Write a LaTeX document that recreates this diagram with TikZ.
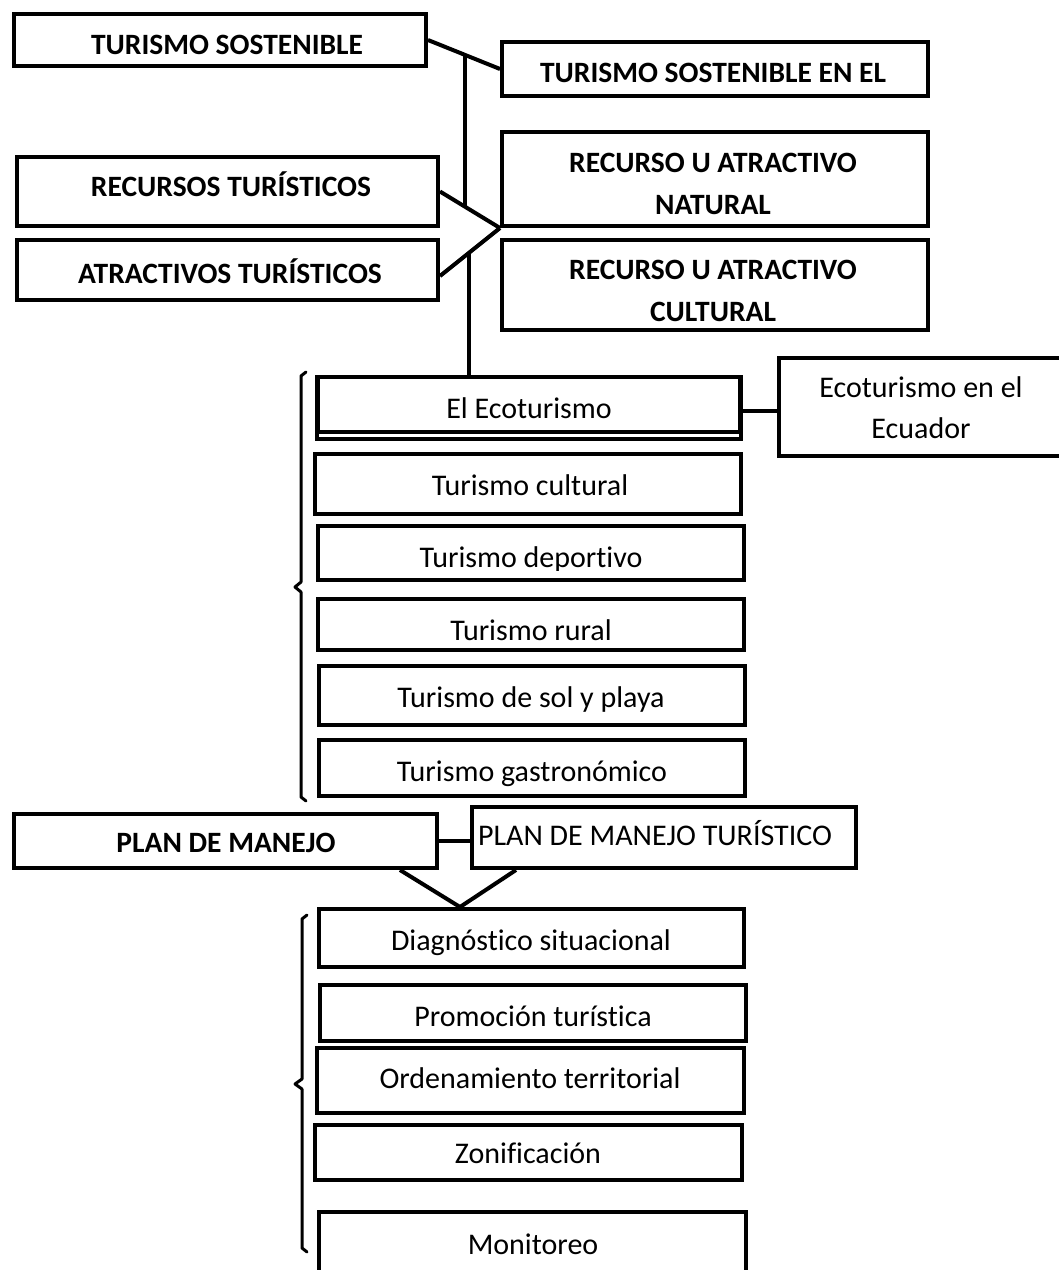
\documentclass[tikz,border=0pt]{standalone}
\usepackage{fontspec}
\setmainfont{Carlito}[Ligatures=NoCommon]
\usetikzlibrary{calc}
\newcommand\mybox[5]{\node[boxst, minimum width={(#4-#2-4)*1pt}, minimum height={(#5-#3-4)*1pt}] (#1) at ({(#2+#4)/2},{(#3+#5)/2}) {};}
\begin{document}
\begin{tikzpicture}[x=1pt,y=-1pt,
  boxst/.style={draw, line width=4pt, inner sep=0pt, rectangle, fill=white},
  conn/.style={line width=4pt},
  brk/.style={line width=3pt, line join=round, line cap=round},
  bt/.style={anchor=base, inner sep=0pt, font=\fontsize{29.5}{34}\selectfont\bfseries},
  rt/.style={anchor=base, inner sep=0pt, font=\fontsize{30}{34}\selectfont}]
\useasboundingbox (0,0) rectangle (1059,1270);
\clip (0,0) rectangle (1059,1270);
\mybox{TS}{12}{12}{428}{68}
\mybox{TSE}{500}{40}{930}{98}
\mybox{RT}{15}{155}{440}{228}
\mybox{AT}{15}{238}{440}{302}
\mybox{RAN}{500}{130}{930}{228}
\mybox{RAC}{500}{238}{930}{332}
\mybox{EcoB}{315}{375}{743}{441}
\mybox{Eco}{316}{375}{742}{434}
\mybox{Ecu}{777}{356}{1075}{458}
\mybox{Cul}{313}{452}{743}{516}
\mybox{Dep}{316}{524}{746}{582}
\mybox{Rur}{316}{597}{746}{652}
\mybox{Sol}{317}{664}{747}{727}
\mybox{Gas}{317}{738}{747}{798}
\mybox{PM}{12}{812}{439}{870}
\mybox{PMT}{470}{805}{858}{870}
\mybox{Dia}{317}{907}{746}{969}
\mybox{Pro}{318}{983}{748}{1043}
\mybox{Ord}{315}{1046}{746}{1115}
\mybox{Zon}{313}{1123}{744}{1182}
\mybox{Mon}{317}{1210}{748}{1290}

% connectors
\draw[conn] (TS.east) -- (TSE.west);
\draw[conn] (RT.east) -- (RAN.south west);
\draw[conn] ($(AT.east)+(0,6)$) -- (RAN.south west);
\coordinate (v1a) at ($(TS.east)!0.52!(TSE.west)$);
\coordinate (v1b) at ($(RT.east)!0.42!(RAN.south west)$);
\draw[conn] (v1a) -- (v1a |- v1b);
\coordinate (v2) at ($($(AT.east)+(0,6)$)!0.48!(RAN.south west)$);
\draw[conn] (v2) -- (v2 |- Eco.north);
\draw[conn] ($(Eco.east)+(0,6)$) -- ($(Eco.east -| Ecu.west)+(0,6)$);
\draw[conn] (PM.east) -- (PM.east -| PMT.west);
\coordinate (vtx) at ($(Dia.north west)+(143,0)$);
\draw[conn] ($(PM.south west)+(388,0)$) -- (vtx);
\draw[conn] ($(PMT.south west)+(46,0)$) -- (vtx);

% brackets
\draw[brk] (306,372) -- (301,376) -- (301,582) -- (295,587) -- (301,592) -- (301,797) -- (306,801);
\draw[brk] (307,915) -- (302,919) -- (302,1079) -- (295,1084) -- (302,1089) -- (302,1248) -- (307,1252);

% texts
\node[bt] (tTS) at (227,54) {TURISMO SOSTENIBLE};
\node[bt] (tTSE) at (713,82) {TURISMO SOSTENIBLE EN EL};
\node[bt] (tRT) at (231,196) {RECURSOS TURÍSTICOS};
\node[bt] (tAT) at (230,283) {ATRACTIVOS TURÍSTICOS};
\node[bt] (tRAN1) at (713,172) {RECURSO U ATRACTIVO};
\node[bt] (tRAN2) at (713,214) {NATURAL};
\node[bt] (tRAC1) at (713,279) {RECURSO U ATRACTIVO};
\node[bt] (tRAC2) at (713,321) {CULTURAL};
\node[rt] (tEco) at (529,418) {El Ecoturismo};
\node[rt] (tEcu1) at (921,397) {Ecoturismo en el};
\node[rt] (tEcu2) at (921,438) {Ecuador};
\node[rt] (tCul) at (530,495) {Turismo cultural};
\begin{scope}
\clip (318,526) rectangle (744,570);
\node[rt] (tDep) at (531,567) {Turismo deportivo};
\end{scope}
\node[rt] (tRur) at (531,640) {Turismo rural};
\node[rt] (tSol) at (531,707) {Turismo de sol y playa};
\begin{scope}
\clip (319,740) rectangle (745,786);
\node[rt] (tGas) at (532,781) {Turismo gastronómico};
\end{scope}
\node[bt] (tPM) at (226,852) {PLAN DE MANEJO};
\node[rt] (tPMT) at (655,845) {PLAN DE MANEJO TURÍSTICO};
\node[rt] (tDia) at (531,950) {Diagnóstico situacional};
\node[rt] (tPro) at (533,1026) {Promoción turística};
\node[rt] (tOrd) at (530,1088) {Ordenamiento territorial};
\node[rt] (tZon) at (528,1163) {Zonificación};
\node[rt] (tMon) at (533,1254) {Monitoreo};
\end{tikzpicture}
\end{document}
